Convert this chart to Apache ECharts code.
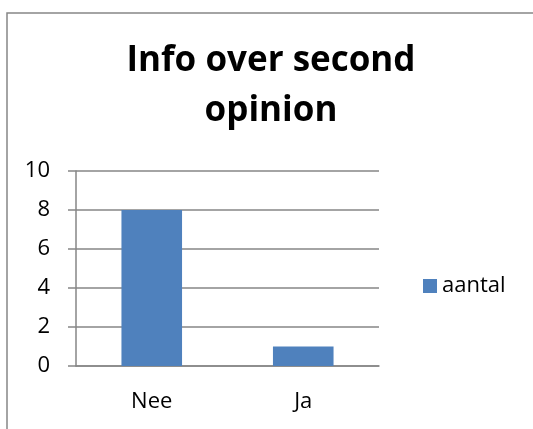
<!DOCTYPE html>
<html>
<head>
<meta charset="utf-8">
<script src="https://cdn.jsdelivr.net/npm/echarts@6/dist/echarts.min.js"></script>
<style>
  html, body { margin: 0; padding: 0; background: #fff; }
  #chart { width: 533px; height: 429px; }
</style>
</head>
<body>
<div id="chart"></div>
<script>
// data
const categories = ['Nee', 'Ja'];
const aantal = [8, 1];
const seriesName = 'aantal';
const titleText = 'Info over second\nopinion';

const font = '"Open Sans", "Liberation Sans", sans-serif';
const gray = '#868686';

const myChart = echarts.init(document.getElementById('chart'));
const option = {
  animation: false,
  title: {
    text: titleText,
    left: 266,
    top: 31,
    textAlign: 'center',
    textStyle: {
      fontFamily: font,
      fontSize: 35,
      fontWeight: 'bold',
      color: '#000',
      lineHeight: 50
    }
  },
  legend: {
    left: 423,
    top: 275,
    padding: 0,
    icon: 'rect',
    itemWidth: 14,
    itemHeight: 14,
    itemGap: 6,
    textStyle: { fontFamily: font, fontSize: 22, color: '#000' },
    data: [seriesName]
  },
  grid: { left: 76, right: 154, top: 171, bottom: 63 },
  xAxis: {
    type: 'category',
    data: categories,
    axisLine: { lineStyle: { color: gray, width: 1.5 } },
    axisTick: { length: 7, lineStyle: { color: gray, width: 1.5 } },
    axisLabel: { fontFamily: font, fontSize: 22, color: '#000', margin: 25 }
  },
  yAxis: {
    type: 'value',
    min: 0,
    max: 10,
    interval: 2,
    axisLine: { show: true, lineStyle: { color: gray, width: 1.5 } },
    axisTick: { show: true, length: 8, lineStyle: { color: gray, width: 1.5 } },
    splitLine: { lineStyle: { color: gray, width: 1.5 } },
    axisLabel: { fontFamily: font, fontSize: 22, color: '#000', margin: 26 }
  },
  series: [
    {
      name: seriesName,
      type: 'bar',
      data: aantal,
      barWidth: '40%',
      itemStyle: { color: '#4F81BD' }
    }
  ],
  graphic: [
    {
      type: 'rect',
      shape: { x: 7, y: 13, width: 540, height: 500 },
      style: { fill: null, stroke: '#878787', lineWidth: 1.5 },
      silent: true
    }
  ]
};
myChart.setOption(option);
</script>
</body>
</html>
